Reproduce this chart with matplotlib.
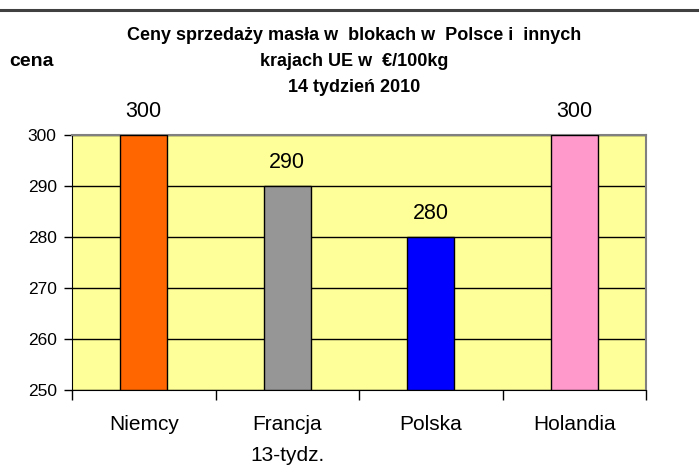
import matplotlib.pyplot as plt
import numpy as np

plt.rcParams['font.family'] = ['Liberation Sans', 'DejaVu Sans']

# data
countries = ['Niemcy', 'Francja', 'Polska', 'Holandia']
subnotes = ['', '13-tydz.', '', '']
prices = [300, 290, 280, 300]
colors = ['#FF6600', '#969696', '#0000FF', '#FF99CC']
yticks = [250, 260, 270, 280, 290, 300]

fig = plt.figure(figsize=(6.99, 4.72), dpi=100)
ax = fig.add_axes([72/699, 82/472, 574/699, 255/472])
ax.set_facecolor('#FFFF99')

x = np.arange(len(countries))
ax.bar(x, np.array(prices) - 250, bottom=250, width=0.33, color=colors,
       edgecolor='black', linewidth=1, zorder=3)

for xi, v in zip(x, prices):
    ax.annotate(str(v), (xi, v), xytext=(0, 17), textcoords='offset points',
                ha='center', va='center', fontsize=15.5, annotation_clip=False)

ax.set_xlim(-0.5, 3.5)
ax.set_ylim(250, 300)
ax.set_yticks(yticks)
ax.tick_params(axis='y', labelsize=12.5, length=6, width=1, pad=5)
ax.yaxis.grid(True, color='black', linewidth=1, zorder=1)

# category labels under the axis
ax.set_xticks(x)
ax.set_xticklabels([])
ax.tick_params(axis='x', length=0)
for xi, name, note in zip(x, countries, subnotes):
    ax.annotate(name, (xi, 0), xycoords=('data', 'axes fraction'),
                xytext=(0, -24.5), textcoords='offset points',
                ha='center', va='center', fontsize=15)
    if note:
        ax.annotate(note, (xi, 0), xycoords=('data', 'axes fraction'),
                    xytext=(0, -47.5), textcoords='offset points',
                    ha='center', va='center', fontsize=15)
ax.set_xticks(np.arange(-0.5, 4, 1), minor=True)
ax.tick_params(axis='x', which='minor', length=7, width=1)

for s in ['left', 'bottom']:
    ax.spines[s].set_color('black')
for s in ['top', 'right']:
    ax.spines[s].set_color('#808080')
    ax.spines[s].set_linewidth(1.5)

fig.text(354/699, 1 - 35/472, 'Ceny sprzedaży masła w  blokach w  Polsce i  innych',
         ha='center', va='center', fontsize=13, fontweight='bold')
fig.text(354/699, 1 - 61/472, 'krajach UE w  €/100kg',
         ha='center', va='center', fontsize=13, fontweight='bold')
fig.text(354/699, 1 - 87/472, '14 tydzień 2010',
         ha='center', va='center', fontsize=13, fontweight='bold')
fig.text(9/699, 1 - 61/472, 'cena', ha='left', va='center',
         fontsize=14, fontweight='bold')

fig.add_artist(plt.Line2D([0, 1], [1 - 10/472, 1 - 10/472],
                          transform=fig.transFigure, color='#404040', linewidth=2.2))

fig.savefig('out.png', dpi=100)
